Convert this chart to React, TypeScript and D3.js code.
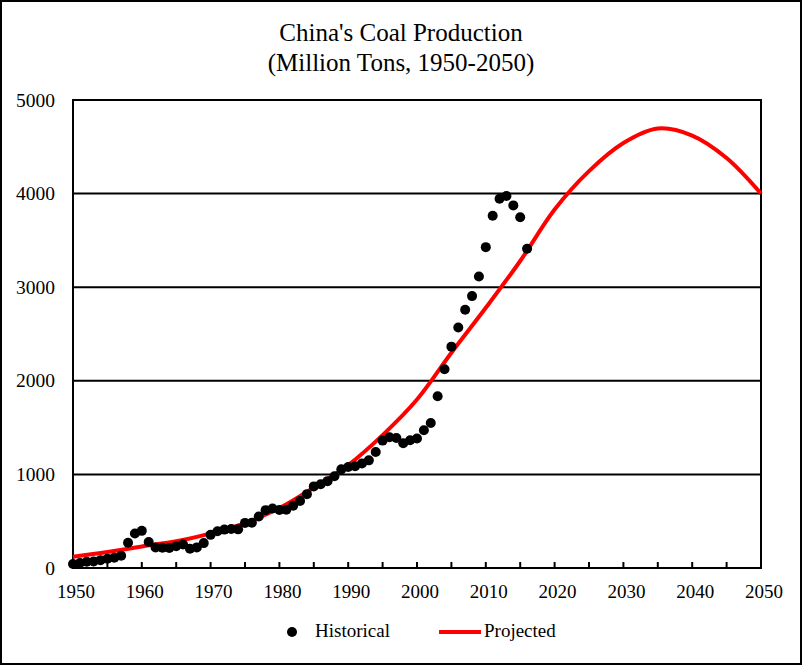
import React from "react";
import * as d3 from "d3";

const histYears = d3.range(1950, 2017);
const histValues = [
  43, 53, 66, 70, 84, 98, 110, 131, 270, 369, 397, 278, 220, 217, 215, 232, 252, 206, 220, 266,
  354, 392, 410, 417, 413, 482, 483, 550, 618, 635, 620, 622, 666, 715, 789, 872, 894, 928, 980, 1054,
  1080, 1087, 1116, 1150, 1240, 1361, 1397, 1388, 1332, 1364, 1384, 1472, 1550, 1835, 2123, 2365, 2570, 2760, 2905, 3115,
  3428, 3764, 3945, 3974, 3874, 3747, 3411,
];
const projYears = [1950, 1955, 1960, 1965, 1970, 1975, 1980, 1985, 1990, 1995, 2000, 2005, 2010, 2015, 2020, 2025, 2030, 2035, 2040, 2045, 2050];
const projValues = [120, 170, 230, 285, 370, 480, 640, 860, 1100, 1420, 1800, 2300, 2780, 3280, 3830, 4240, 4540, 4695, 4620, 4380, 4000];
const xTickLabels = [1950, 1960, 1970, 1980, 1990, 2000, 2010, 2020, 2030, 2040, 2050];
const xMinorTicks = d3.range(1950, 2051, 5);
const yTicks = [0, 1000, 2000, 3000, 4000, 5000];

const W = 802, H = 665;
const L = 73, R = 761, T = 100, B = 568;
const FONT = "'Liberation Serif', 'Times New Roman', serif";

export default function App() {
  const x = d3.scaleLinear().domain([1950, 2050]).range([L, R]);
  const y = d3.scaleLinear().domain([0, 5000]).range([B, T]);
  const line = d3
    .line<number>()
    .x((_, i) => x(projYears[i]))
    .y((d) => y(d))
    .curve(d3.curveCatmullRom);

  return (
    <svg width={W} height={H} style={{ position: "absolute", left: 0, top: 0, background: "#fff" }} fontFamily={FONT}>
      <rect x={1} y={1} width={W - 2} height={H - 2} fill="#fff" stroke="#000" strokeWidth={2} />
      <text x={401} y={41} textAnchor="middle" fontSize={25}>China's Coal Production</text>
      <text x={401} y={71} textAnchor="middle" fontSize={25}>(Million  Tons, 1950-2050)</text>

      {yTicks.map((t) => (
        <g key={t}>
          <line x1={L} x2={R} y1={y(t)} y2={y(t)} stroke="#000" strokeWidth={2} />
          <text x={55} y={y(t) + 6.5} textAnchor="end" fontSize={19.5}>{t}</text>
        </g>
      ))}
      <rect x={L} y={T} width={R - L} height={B - T} fill="none" stroke="#000" strokeWidth={2} />
      {xMinorTicks.map((t) => (
        <line key={t} x1={x(t)} x2={x(t)} y1={B} y2={B - 6} stroke="#000" strokeWidth={2} />
      ))}
      {xTickLabels.map((t) => (
        <text key={t} x={x(t) + 3} y={598} textAnchor="middle" fontSize={19}>{t}</text>
      ))}

      <path d={line(projValues) || ""} fill="none" stroke="#ff0000" strokeWidth={4} />
      {histValues.map((v, i) => (
        <circle key={i} cx={x(histYears[i])} cy={y(v)} r={5} fill="#000" />
      ))}

      <circle cx={292} cy={632} r={5} fill="#000" />
      <text x={315} y={637} fontSize={19}>Historical</text>
      <line x1={439} x2={481} y1={632} y2={632} stroke="#ff0000" strokeWidth={4} />
      <text x={484} y={637} fontSize={19}>Projected</text>
    </svg>
  );
}
